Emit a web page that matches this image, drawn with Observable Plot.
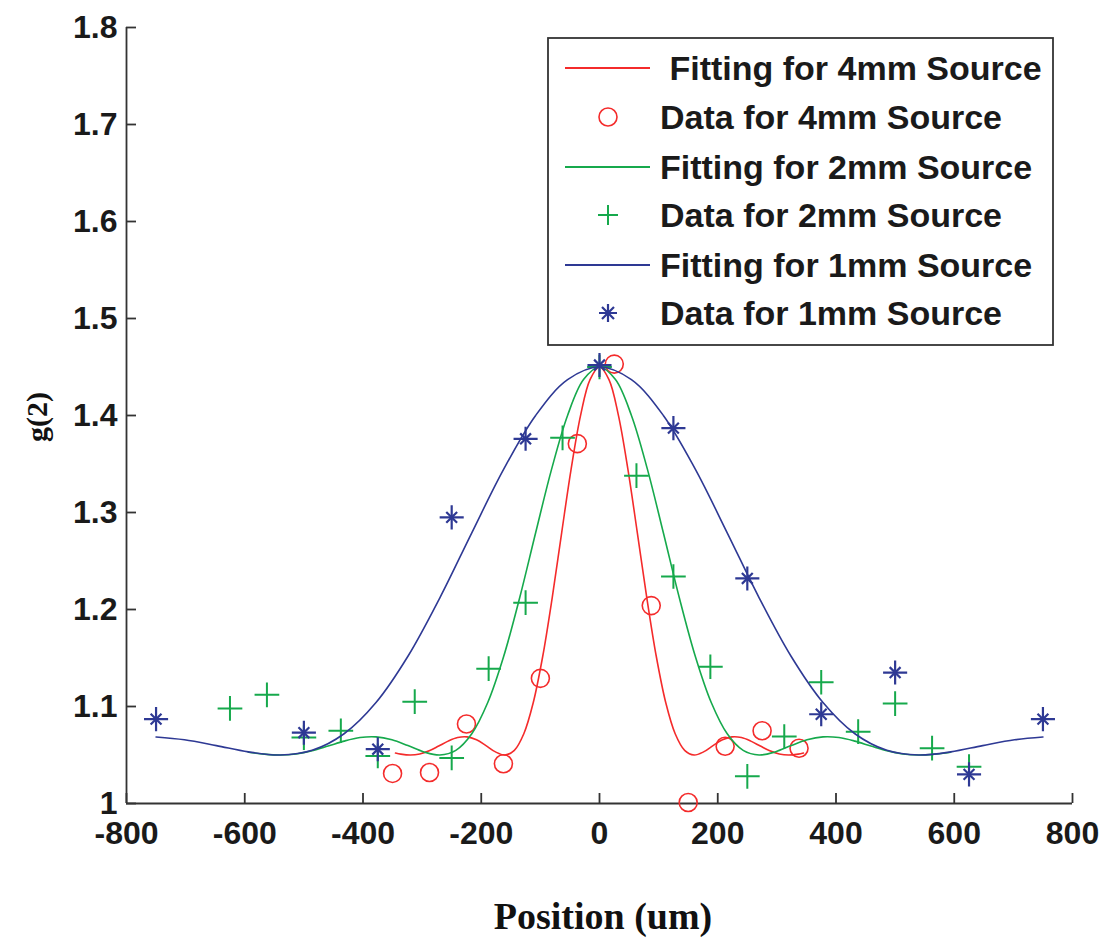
<!DOCTYPE html>
<html>
<head>
<meta charset="utf-8">
<script src="https://cdn.jsdelivr.net/npm/d3@7"></script>
<script src="https://cdn.jsdelivr.net/npm/@observablehq/plot@0.6"></script>
<style>
  body { margin: 0; background: #fff; }
  #chart svg { display: block; }
</style>
</head>
<body>
<div id="chart"></div>
<script>
// ---- tick labels ----
const xTicks = [-800, -600, -400, -200, 0, 200, 400, 600, 800];
const xTickLabels = ["-800", "-600", "-400", "-200", "0", "200", "400", "600", "800"];
const yTicks = [1, 1.1, 1.2, 1.3, 1.4, 1.5, 1.6, 1.7, 1.8];
const yTickLabels = ["1", "1.1", "1.2", "1.3", "1.4", "1.5", "1.6", "1.7", "1.8"];

// ---- legend entries ----
const legendLabels = [
  " Fitting for 4mm Source",
  "Data for 4mm Source",
  "Fitting for 2mm Source",
  "Data for 2mm Source",
  "Fitting for 1mm Source",
  "Data for 1mm Source"
];

const data4mmX = [-350, -287.5, -225, -162.5, -100, -37.5, 25, 87.5, 150, 212.5, 275, 337.5];
const data4mmY = [1.031, 1.032, 1.082, 1.041, 1.129, 1.371, 1.453, 1.204, 1.001, 1.059, 1.075, 1.057];

const data2mmX = [-625, -562.5, -500, -437.5, -375, -312.5, -250, -187.5, -125, -62.5, 0, 62.5, 125, 187.5, 250, 312.5, 375, 437.5, 500, 562.5, 625];
const data2mmY = [1.098, 1.112, 1.068, 1.075, 1.049, 1.105, 1.047, 1.139, 1.207, 1.377, 1.45, 1.338, 1.234, 1.141, 1.028, 1.069, 1.125, 1.074, 1.103, 1.057, 1.038];

const data1mmX = [-750, -500, -375, -250, -125, 0, 125, 250, 375, 500, 625, 750];
const data1mmY = [1.087, 1.073, 1.056, 1.295, 1.376, 1.452, 1.387, 1.232, 1.092, 1.135, 1.030, 1.087];

// ---- fitting curves ----
const fit4mmX = [-345, -336, -320, -304, -288, -272, -256, -240, -224, -208, -192, -176, -160, -144, -128, -112, -96, -80, -64, -48, -32, -16, 0,
                 16, 32, 48, 64, 80, 96, 112, 128, 144, 160, 176, 192, 208, 224, 240, 256, 272, 288, 304, 320, 336, 345];
const fit4mmY = [1.052, 1.0509, 1.05, 1.0511, 1.0543, 1.0592, 1.0643, 1.068, 1.0687, 1.0657, 1.0597, 1.0532, 1.05, 1.0548, 1.0719, 1.1041, 1.1518, 1.2121, 1.2791, 1.3447, 1.4001, 1.437, 1.45,
                 1.437, 1.4001, 1.3447, 1.2791, 1.2121, 1.1518, 1.1041, 1.0719, 1.0548, 1.05, 1.0532, 1.0597, 1.0657, 1.0687, 1.068, 1.0643, 1.0592, 1.0543, 1.0511, 1.05, 1.0509, 1.052];

const fit2mmX = [-594, -567, -540, -513, -486, -459, -432, -405, -378, -351, -324, -297, -270, -243, -216, -189, -162, -135, -108, -81, -54, -27, 0,
                 27, 54, 81, 108, 135, 162, 189, 216, 243, 270, 297, 324, 351, 378, 405, 432, 459, 486, 513, 540, 567, 594];
const fit2mmY = [1.0529, 1.0509, 1.05, 1.0511, 1.0543, 1.0592, 1.0643, 1.068, 1.0687, 1.0657, 1.0597, 1.0532, 1.05, 1.0548, 1.0719, 1.1041, 1.1518, 1.2121, 1.2791, 1.3447, 1.4001, 1.437, 1.45,
                 1.437, 1.4001, 1.3447, 1.2791, 1.2121, 1.1518, 1.1041, 1.0719, 1.0548, 1.05, 1.0532, 1.0597, 1.0657, 1.0687, 1.068, 1.0643, 1.0592, 1.0543, 1.0511, 1.05, 1.0509, 1.0529];

const fit1mmX = [-750, -702, -648, -594, -540, -486, -432, -378, -324, -270, -216, -162, -108, -54, 0,
                 54, 108, 162, 216, 270, 324, 378, 432, 486, 540, 594, 648, 702, 750];
const fit1mmY = [1.0686, 1.0657, 1.0597, 1.0532, 1.05, 1.0548, 1.0719, 1.1041, 1.1518, 1.2121, 1.2791, 1.3447, 1.4001, 1.437, 1.45,
                 1.437, 1.4001, 1.3447, 1.2791, 1.2121, 1.1518, 1.1041, 1.0719, 1.0548, 1.05, 1.0532, 1.0597, 1.0657, 1.0686];

const RED = "#f42b2b", GREEN = "#16a94c", BLUE = "#2e3994", AXIS = "#333333";

const rows = (xs, ys) => xs.map((x, i) => ({x, y: ys[i]}));
const fit4 = rows(fit4mmX, fit4mmY), fit2 = rows(fit2mmX, fit2mmY), fit1 = rows(fit1mmX, fit1mmY);
const d4 = rows(data4mmX, data4mmY), d2 = rows(data2mmX, data2mmY), d1 = rows(data1mmX, data1mmY);

const tickFont = {fontSize: 32, fontWeight: "bold", fill: "#1a1a1a"};

const W = 1106, H = 939, ML = 126, MR = 34, MT = 27, MB = 136;
const frameW = W - ML - MR, frameH = H - MT - MB, TICK = 10;

const plot = Plot.plot({
  width: W,
  height: H,
  marginLeft: ML,
  marginRight: MR,
  marginTop: MT,
  marginBottom: MB,
  x: {domain: [-800, 800]},
  y: {domain: [1, 1.8]},
  style: {fontFamily: "'Liberation Sans', Arial, sans-serif", background: "#fff", overflow: "visible"},
  marks: [
    Plot.ruleX([-800], {stroke: AXIS, strokeWidth: 1.8}),
    Plot.ruleY([1], {stroke: AXIS, strokeWidth: 1.8}),
    // inward ticks (MATLAB style)
    Plot.tickX(xTicks, {x: d => d, insetTop: frameH - TICK, stroke: AXIS, strokeWidth: 1.8}),
    Plot.tickY(yTicks, {y: d => d, insetRight: frameW - TICK, stroke: AXIS, strokeWidth: 1.8}),
    Plot.axisX(xTicks, {tickSize: 0, tickPadding: 18,
      tickFormat: (d, i) => xTickLabels[i], label: null, ...tickFont}),
    Plot.axisY(yTicks, {tickSize: 0, tickPadding: 9,
      tickFormat: (d, i) => yTickLabels[i], label: null, ...tickFont}),
    Plot.line(fit4, {x: "x", y: "y", stroke: RED, strokeWidth: 1.6, curve: "catmull-rom"}),
    Plot.dot(d4, {x: "x", y: "y", symbol: "circle", r: 9, stroke: RED, fill: "none", strokeWidth: 1.6}),
    Plot.line(fit2, {x: "x", y: "y", stroke: GREEN, strokeWidth: 1.6, curve: "catmull-rom"}),
    Plot.dot(d2, {x: "x", y: "y", symbol: "plus", r: 8, stroke: GREEN, strokeWidth: 2}),
    Plot.line(fit1, {x: "x", y: "y", stroke: BLUE, strokeWidth: 1.6, curve: "catmull-rom"}),
    Plot.dot(d1, {x: "x", y: "y", symbol: "plus", r: 7.8, stroke: BLUE, strokeWidth: 2.2}),
    Plot.dot(d1, {x: "x", y: "y", symbol: "times", r: 5, stroke: BLUE, strokeWidth: 2.2})
  ]
});

document.getElementById("chart").appendChild(plot);

// ---- axis titles & legend ----
const svg = d3.select(plot);

svg.append("text")
  .attr("x", 603).attr("y", 929)
  .attr("text-anchor", "middle")
  .style("font-family", "'Liberation Serif', 'Times New Roman', serif")
  .style("font-weight", "bold").style("font-size", "38px").attr("fill", "#111")
  .text("Position (um)");

svg.append("text")
  .attr("transform", "translate(47,417) rotate(-90)")
  .attr("text-anchor", "middle")
  .style("font-family", "'Liberation Serif', 'Times New Roman', serif")
  .style("font-weight", "bold").style("font-size", "30px").attr("fill", "#111")
  .text("g(2)");

const lg = svg.append("g");
lg.append("rect")
  .attr("x", 548).attr("y", 38).attr("width", 505).attr("height", 307)
  .attr("fill", "#fff").attr("stroke", AXIS).attr("stroke-width", 1.8);

const rowY = [68, 117, 167, 215, 265, 313];
const kinds = ["line", "circle", "line", "plus", "line", "star"];
const colors = [RED, RED, GREEN, GREEN, BLUE, BLUE];
legendLabels.forEach((label, i) => {
  const y = rowY[i], c = colors[i], k = kinds[i];
  if (k === "line") {
    lg.append("line").attr("x1", 565).attr("x2", 650).attr("y1", y).attr("y2", y)
      .attr("stroke", c).attr("stroke-width", 1.8);
  } else if (k === "circle") {
    lg.append("circle").attr("cx", 608).attr("cy", y).attr("r", 9)
      .attr("fill", "none").attr("stroke", c).attr("stroke-width", 1.6);
  } else if (k === "plus") {
    lg.append("path").attr("transform", `translate(608,${y})`)
      .attr("d", "M-10,0H10M0,-10V10")
      .attr("fill", "none").attr("stroke", c).attr("stroke-width", 2);
  } else {
    lg.append("path").attr("transform", `translate(608,${y})`)
      .attr("d", "M-9,0H9M0,-9V9M-6,-6L6,6M-6,6L6,-6")
      .attr("fill", "none").attr("stroke", c).attr("stroke-width", 2.2);
  }
  lg.append("text")
    .attr("x", 660).attr("y", y).attr("dy", "0.36em")
    .attr("text-anchor", "start")
    .style("font-family", "'Liberation Sans', Arial, sans-serif")
    .style("font-weight", "bold").style("font-size", "34px").attr("fill", "#1a1a1a")
    .style("white-space", "pre")
    .text(label);
});
</script>
</body>
</html>
